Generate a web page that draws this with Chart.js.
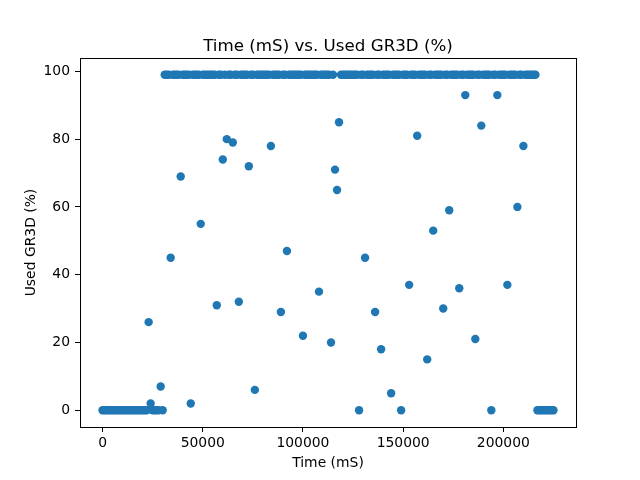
<!DOCTYPE html>
<html>
<head>
<meta charset="utf-8">
<script src="https://cdn.jsdelivr.net/npm/chart.js@4/dist/chart.umd.min.js"></script>
<style>
  html, body { margin: 0; padding: 0; background: #fff; }
  #wrap { width: 640px; height: 480px; }
</style>
</head>
<body>
<div id="wrap"><canvas id="c" width="640" height="480"></canvas></div>
<script>
// --- data ---
// sample times (mS), one sample roughly every second
const timeMs = [
  0, 1000, 2000, 3000, 4000, 5000, 6000, 7000, 8000, 9000,
  10000, 11000, 12000, 13000, 14000, 15000, 16000, 17000, 18000, 19000,
  20000, 21000, 22000, 23000, 24000, 25000, 26000, 27000, 28000, 29000,
  30000, 31000, 32000, 33000, 34000, 35000, 36000, 37000, 38000, 39000,
  40000, 41000, 42000, 43000, 44000, 45000, 46000, 47000, 48000, 49000,
  50000, 51000, 52000, 53000, 54000, 55000, 56000, 57000, 58000, 59000,
  60000, 61000, 62000, 63000, 64000, 65000, 66000, 67000, 68000, 69000,
  70000, 71000, 72000, 73000, 74000, 75000, 76000, 77000, 78000, 79000,
  80000, 81000, 82000, 83000, 84000, 85000, 86000, 87000, 88000, 89000,
  90000, 91000, 92000, 93000, 94000, 95000, 96000, 97000, 98000, 99000,
  100000, 101000, 102000, 103000, 104000, 105000, 106000, 107000, 108000, 109000,
  110000, 111000, 112000, 113000, 114000, 115000, 116000, 117000, 118000, 119000,
  120000, 121000, 122000, 123000, 124000, 125000, 126000, 127000, 128000, 129000,
  130000, 131000, 132000, 133000, 134000, 135000, 136000, 137000, 138000, 139000,
  140000, 141000, 142000, 143000, 144000, 145000, 146000, 147000, 148000, 149000,
  150000, 151000, 152000, 153000, 154000, 155000, 156000, 157000, 158000, 159000,
  160000, 161000, 162000, 163000, 164000, 165000, 166000, 167000, 168000, 169000,
  170000, 171000, 172000, 173000, 174000, 175000, 176000, 177000, 178000, 179000,
  180000, 181000, 182000, 183000, 184000, 185000, 186000, 187000, 188000, 189000,
  190000, 191000, 192000, 193000, 194000, 195000, 196000, 197000, 198000, 199000,
  200000, 201000, 202000, 203000, 204000, 205000, 206000, 207000, 208000, 209000,
  210000, 211000, 212000, 213000, 214000, 215000, 216000, 217000, 218000, 219000,
  220000, 221000, 222000, 223000, 224000, 225000
];

// GR3D load (%) for each sample above
const usedGr3d = [
  0, 0, 0, 0, 0, 0, 0, 0, 0, 0,
  0, 0, 0, 0, 0, 0, 0, 0, 0, 0,
  0, 0, 0, 26, 2, 0, 0, 0, 0, 7,
  0, 99, 99, 99, 45, 99, 99, 99, 99, 69,
  99, 99, 99, 99, 2, 99, 99, 99, 99, 55,
  99, 99, 99, 99, 99, 99, 99, 31, 99, 99,
  74, 99, 80, 99, 99, 79, 99, 99, 32, 99,
  99, 99, 99, 72, 99, 99, 6, 99, 99, 99,
  99, 99, 99, 99, 78, 99, 99, 99, 99, 29,
  99, 99, 47, 99, 99, 99, 99, 99, 99, 99,
  22, 99, 99, 99, 99, 99, 99, 99, 35, 99,
  99, 99, 99, 99, 20, 99, 71, 65, 85, 99,
  99, 99, 99, 99, 99, 99, 99, 99, 0, 99,
  99, 45, 99, 99, 99, 99, 29, 99, 99, 18,
  99, 99, 99, 99, 5, 99, 99, 99, 99, 0,
  99, 99, 99, 37, 99, 99, 99, 81, 99, 99,
  99, 99, 15, 99, 99, 53, 99, 99, 99, 99,
  30, 99, 99, 59, 99, 99, 99, 99, 36, 99,
  99, 93, 99, 99, 99, 99, 21, 99, 99, 84,
  99, 99, 99, 99, 0, 99, 99, 93, 99, 99,
  99, 99, 37, 99, 99, 99, 99, 60, 99, 99,
  78, 99, 99, 99, 99, 99, 99, 0, 0, 0,
  0, 0, 0, 0, 0, 0
];

const xTicks = [0, 50000, 100000, 150000, 200000];
const yTicks = [0, 20, 40, 60, 80, 100];
const chartTitle = 'Time (mS) vs. Used GR3D (%)';

const points = timeMs.map((t, i) => ({ x: t, y: usedGr3d[i] }));

const FONT = 'DejaVu Sans';
Chart.defaults.font.family = FONT;
Chart.defaults.color = '#000';

// matplotlib-like frame round the plot area, title centred over the axes
const frame = {
  id: 'frame',
  afterDraw(chart) {
    const { ctx, chartArea: a } = chart;
    ctx.save();
    ctx.strokeStyle = '#000';
    ctx.lineWidth = 1;
    ctx.strokeRect(Math.round(a.left) + 0.5, Math.round(a.top) + 0.5,
      Math.round(a.right - a.left), Math.round(a.bottom - a.top));
    ctx.fillStyle = '#000';
    ctx.font = '16.7px "' + FONT + '"';
    ctx.textAlign = 'center';
    ctx.textBaseline = 'alphabetic';
    ctx.fillText(chartTitle, (a.left + a.right) / 2, a.top - 7.5);
    ctx.restore();
  }
};

new Chart(document.getElementById('c'), {
  type: 'scatter',
  data: {
    datasets: [{
      data: points,
      backgroundColor: '#1f77b4',
      borderColor: '#1f77b4',
      borderWidth: 0,
      pointRadius: 4.2,
      pointHoverRadius: 4.2
    }]
  },
  options: {
    responsive: false,
    animation: false,
    events: [],
    layout: { padding: { left: 0, right: 64, top: 58, bottom: 0 } },
    plugins: {
      legend: { display: false },
      tooltip: { enabled: false },
      title: { display: false }
    },
    scales: {
      x: {
        type: 'linear',
        min: -11250,
        max: 236250,
        afterBuildTicks: s => { s.ticks = xTicks.map(v => ({ value: v })); },
        afterFit: s => { s.height = 53; },
        ticks: { font: { size: 13.9 }, padding: 3, maxRotation: 0, color: '#000',
                 callback: v => String(v) },
        grid: { drawOnChartArea: false, tickLength: 5, color: '#000' },
        border: { display: true, color: '#000' },
        title: { display: true, text: 'Time (mS)', font: { size: 13.9 },
                 padding: { top: 0, bottom: 8.7 }, color: '#000' }
      },
      y: {
        type: 'linear',
        min: -4.95,
        max: 103.95,
        afterBuildTicks: s => { s.ticks = yTicks.map(v => ({ value: v })); },
        afterFit: s => { s.width = 80; },
        ticks: { font: { size: 13.9 }, padding: 5, color: '#000' },
        grid: { drawOnChartArea: false, tickLength: 5, color: '#000' },
        border: { display: true, color: '#000' },
        title: { display: true, text: 'Used GR3D (%)', font: { size: 13.9 },
                 padding: { top: 22.7, bottom: 0 }, color: '#000' }
      }
    }
  },
  plugins: [frame]
});
</script>
</body>
</html>
